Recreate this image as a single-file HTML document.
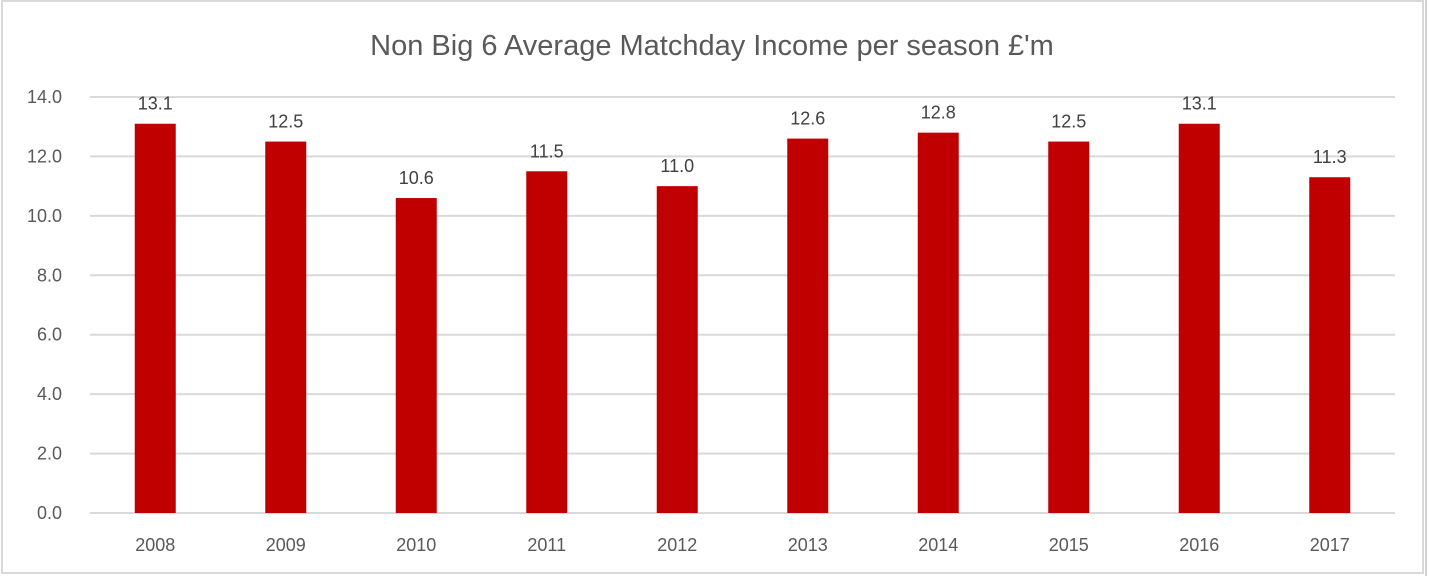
<!DOCTYPE html>
<html><head><meta charset="utf-8"><style>
body{margin:0;background:#fff;width:1430px;height:576px;overflow:hidden;font-family:"Liberation Sans",sans-serif}
</style></head><body>
<svg width="1430" height="576" xmlns="http://www.w3.org/2000/svg">
<rect x="2" y="1" width="1421" height="572" fill="#fff" stroke="#d9d9d9" stroke-width="2"/>
<line x1="1426" y1="0" x2="1426" y2="576" stroke="#d0d0d0" stroke-width="2"/>
<text x="712" y="55" text-anchor="middle" font-size="29" fill="#595959">Non Big 6 Average Matchday Income per season £'m</text>
<g id="grid"></g><g id="bars"></g><g id="labels"></g>
</svg>
<script>
const categories=["2008","2009","2010","2011","2012","2013","2014","2015","2016","2017"];
const values=[13.1,12.5,10.6,11.5,11.0,12.6,12.8,12.5,13.1,11.3];
const yTicks=[0,2,4,6,8,10,12,14];
const NS="http://www.w3.org/2000/svg";
const x0=90,x1=1395,yBase=513,yTop=97,yMax=14;
const bw=(x1-x0)/categories.length;
function y(v){return yBase-(v/yMax)*(yBase-yTop);}
function xc(i){return x0+bw*(i+0.5);}
function mk(t,a,p){const e=document.createElementNS(NS,t);for(const k in a)e.setAttribute(k,a[k]);p.appendChild(e);return e;}
const g=document.getElementById('grid'),b=document.getElementById('bars'),l=document.getElementById('labels');
yTicks.forEach(t=>{
 const ln=mk('line',{x1:x0,x2:x1,y1:y(t),y2:y(t),stroke:'#d9d9d9','stroke-width':2},g);
 
 
 const tx=mk('text',{x:62,y:y(t)+6,'text-anchor':'end','font-size':18,fill:'#595959'},g);
 tx.textContent=t.toFixed(1);
 
 
});
categories.forEach((c,i)=>{
 const r=mk('rect',{x:xc(i)-20.5,y:y(values[i]),width:41,height:yBase-y(values[i]),fill:'#c00000'},b);
 
 
 const v=mk('text',{x:xc(i),y:y(values[i])-14,'text-anchor':'middle','font-size':18,fill:'#404040'},l);
 v.textContent=values[i].toFixed(1);
 
 
 const cx=mk('text',{x:xc(i),y:551,'text-anchor':'middle','font-size':18,fill:'#595959'},l);
 cx.textContent=c;
 
 
});
</script>
</body></html>
